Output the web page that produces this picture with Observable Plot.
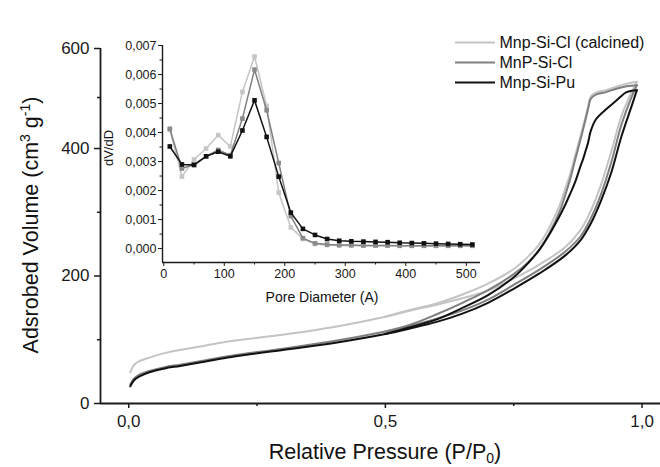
<!DOCTYPE html>
<html><head><meta charset="utf-8">
<script src="https://cdn.jsdelivr.net/npm/d3@7"></script>
<script src="https://cdn.jsdelivr.net/npm/@observablehq/plot@0.6"></script>
<style>
body{margin:0;background:#fff;}
#chart{position:relative;width:660px;height:467px;font-family:"Liberation Sans",Arial,sans-serif;}
#chart svg{position:absolute;left:0;top:0;}
</style></head><body><div id="chart"></div>
<script>
// ---------- series ----------
const seriesNames = ["Mnp-Si-Cl (calcined)", "MnP-Si-Cl", "Mnp-Si-Pu"];
const seriesColors = ["#c4c4c4", "#7f7f7f", "#111111"];
const markerColors = ["#c6c6c6", "#8a8a8a", "#111111"];

// ---------- main isotherm (Relative pressure vs adsorbed volume) ----------
const pAds = [0.003, 0.01, 0.02, 0.04, 0.07, 0.1, 0.15, 0.2, 0.3, 0.4, 0.5, 0.55, 0.6, 0.65, 0.7, 0.75, 0.8, 0.85, 0.88, 0.9, 0.92, 0.94, 0.96, 0.98, 0.99];
const calcinedAds = [49, 60, 66, 72, 79, 84, 91, 98, 108, 120, 136, 146, 155, 165, 177, 196, 218, 245, 272, 302, 343, 395, 464, 512, 532];
const clAds       = [30, 39, 45, 51, 57, 61, 68, 75, 86, 98, 113, 122, 133, 146, 163, 186, 210, 238, 262, 290, 328, 378, 447, 502, 525];
const puAds       = [27, 36, 42, 49, 55, 59, 66, 73, 84, 95, 109, 118, 128, 141, 158, 180, 204, 232, 256, 282, 318, 362, 424, 484, 515];

const pDes = [0.99, 0.97, 0.95, 0.93, 0.91, 0.9, 0.895, 0.89, 0.885, 0.88, 0.87, 0.86, 0.85, 0.84, 0.82, 0.8, 0.78, 0.75, 0.7, 0.65, 0.6, 0.55, 0.5];
const calcinedDes = [532, 528, 522, 515, 510, 502, 483, 462, 443, 424, 390, 360, 336, 312, 277, 250, 232, 211, 188, 171, 157, 147, 136];
const clDes       = [525, 523, 518, 511, 506, 497, 478, 457, 437, 417, 383, 352, 326, 302, 268, 242, 223, 203, 178, 158, 140, 124, 113];
const puDes       = [515, 511, 494, 477, 457, 434, 412, 396, 383, 372, 348, 329, 311, 295, 266, 241, 222, 198, 170, 150, 132, 120, 109];

const mainXDomain = [-0.055, 1.036];
const xMajorTicks = [0, 0.5, 1.0];
const xMinorTicks = [0.25, 0.75];
const yMajorTicks = [0, 200, 400, 600];
const yMinorTicks = [100, 300, 500];
// the source's volume axis is slightly compressed above 400
const yAxisBreaks = [0, 400, 500, 600];
const yAxisSpan   = [0, 400, 480, 556.9];

// ---------- inset (pore size distribution) ----------
const poreDiameter = [10, 30, 50, 70, 90, 110, 130, 150, 170, 190, 210, 230, 250, 270, 290, 310, 330, 350, 370, 390, 410, 430, 450, 470, 490, 510];
const calcinedPSD = [0.00410, 0.00248, 0.00307, 0.00345, 0.00391, 0.00352, 0.00540, 0.00662, 0.00492, 0.00193, 0.00073, 0.00033, 0.00016, 0.00012, 0.00011, 0.00010, 0.00010, 0.00010, 0.00010, 0.00009, 0.00009, 0.00009, 0.00009, 0.00009, 0.00009, 0.00009];
const clPSD       = [0.00413, 0.00276, 0.00290, 0.00318, 0.00340, 0.00322, 0.00448, 0.00617, 0.00477, 0.00295, 0.00112, 0.00036, 0.00018, 0.00014, 0.00012, 0.00012, 0.00011, 0.00011, 0.00011, 0.00010, 0.00010, 0.00010, 0.00010, 0.00010, 0.00010, 0.00010];
const puPSD       = [0.00352, 0.00290, 0.00288, 0.00318, 0.00334, 0.00318, 0.00407, 0.00511, 0.00385, 0.00248, 0.00124, 0.00068, 0.00047, 0.00033, 0.00027, 0.00025, 0.00024, 0.00023, 0.00022, 0.00020, 0.00019, 0.00018, 0.00017, 0.00016, 0.00015, 0.00014];
const insetXDomain = [-2.1, 523.5];
const insetYDomain = [-0.00048, 0.007];
const insetXMajor = [0, 100, 200, 300, 400, 500];
const insetXMinor = [50, 150, 250, 350, 450];
const insetYMajor = [0, 0.001, 0.002, 0.003, 0.004, 0.005, 0.006, 0.007];
const insetYMinor = [0.0005, 0.0015, 0.0025, 0.0035, 0.0045, 0.0055, 0.0065];

// ---------- build ----------
const FONT = '"Liberation Sans", Arial, Helvetica, sans-serif';
const AXIS = "#1a1a1a";
const warp = d3.scaleLinear().domain(yAxisBreaks).range(yAxisSpan);
const toRows = (xs, ys) => xs.map((x, i) => ({x, y: ys[i]}));
const adsSets = [calcinedAds, clAds, puAds];
const desSets = [calcinedDes, clDes, puDes];
const psdSets = [calcinedPSD, clPSD, puPSD];
const svgStyle = {fontFamily: FONT, background: "transparent", overflow: "visible", color: AXIS};

const isoMarks = [];
seriesNames.forEach((name, i) => {
  isoMarks.push(Plot.line(toRows(pAds, adsSets[i]), {x: "x", y: d => warp(d.y), stroke: seriesColors[i], strokeWidth: 2, curve: "catmull-rom"}));
  isoMarks.push(Plot.line(toRows(pDes, desSets[i]), {x: "x", y: d => warp(d.y), stroke: seriesColors[i], strokeWidth: 2, curve: "catmull-rom"}));
});

const fmtMain = d => d.toFixed(1).replace(".", ",");
const main = Plot.plot({
  width: 660, height: 467,
  marginLeft: 100, marginRight: 0, marginTop: 48, marginBottom: 64,
  style: svgStyle,
  x: {domain: mainXDomain},
  y: {domain: [warp(yMajorTicks[0]), warp(yMajorTicks[yMajorTicks.length - 1])]},
  marks: [
    ...isoMarks,
    Plot.ruleY([warp(yMajorTicks[0])], {stroke: AXIS, strokeWidth: 1.8}),
    Plot.ruleX([mainXDomain[0]], {stroke: AXIS, strokeWidth: 1.8}),
    Plot.axisX({ticks: xMajorTicks, tickFormat: fmtMain, tickSize: 5, tickPadding: 6, fontSize: 17, label: null, strokeWidth: 1.5}),
    Plot.axisX({ticks: xMinorTicks, tickFormat: () => "", tickSize: 3, label: null, strokeWidth: 1.5}),
    Plot.axisY({ticks: yMajorTicks.map(v => warp(v)), tickFormat: t => String(Math.round(warp.invert(t))), tickSize: 6, tickPadding: 5, fontSize: 17, label: null, strokeWidth: 1.5}),
    Plot.axisY({ticks: yMinorTicks.map(v => warp(v)), tickFormat: () => "", tickSize: 3, label: null, strokeWidth: 1.5})
  ]
});

const psdMarks = [];
seriesNames.forEach((name, i) => {
  const rows = toRows(poreDiameter, psdSets[i]);
  psdMarks.push(Plot.line(rows, {x: "x", y: "y", stroke: seriesColors[i], strokeWidth: 1.5}));
  psdMarks.push(Plot.dot(rows, {x: "x", y: "y", symbol: "square", r: 2.6, fill: markerColors[i], stroke: "none"}));
});

const fmtInset = d => d.toFixed(3).replace(".", ",");
const inset = Plot.plot({
  width: 660, height: 467,
  marginLeft: 162, marginRight: 180, marginTop: 45, marginBottom: 205,
  style: svgStyle,
  x: {domain: insetXDomain},
  y: {domain: insetYDomain},
  marks: [
    ...psdMarks,
    Plot.ruleY([insetYDomain[0]], {stroke: AXIS, strokeWidth: 1.4}),
    Plot.ruleX([insetXDomain[0]], {stroke: AXIS, strokeWidth: 1.4}),
    Plot.axisX({ticks: insetXMajor, tickFormat: d => String(d), tickSize: 4, tickPadding: 3, fontSize: 12.5, label: null}),
    Plot.axisX({ticks: insetXMinor, tickFormat: () => "", tickSize: 2.5, label: null}),
    Plot.axisY({ticks: insetYMajor, tickFormat: fmtInset, tickSize: 4, tickPadding: 2, fontSize: 12.5, label: null}),
    Plot.axisY({ticks: insetYMinor, tickFormat: () => "", tickSize: 2.5, label: null})
  ]
});

const legend = Plot.plot({
  width: 660, height: 467,
  marginLeft: 455, marginRight: 165, marginTop: 42, marginBottom: 385,
  style: svgStyle,
  x: {domain: [0, 1], axis: null},
  y: {type: "point", domain: seriesNames, padding: 0, axis: null},
  color: {domain: seriesNames, range: seriesColors},
  marks: [
    Plot.ruleY(seriesNames, {y: d => d, stroke: d => d, strokeWidth: 2}),
    Plot.text(seriesNames, {y: d => d, text: d => d, frameAnchor: "right", textAnchor: "start", dx: 4, fontSize: 16, fill: "#111"})
  ]
});

const host = document.getElementById("chart");
host.append(main, inset, legend);

// axis titles (with super/subscripts)
const ms = d3.select(main);
const yt = ms.append("text")
  .attr("transform", "translate(38,225) rotate(-90)")
  .attr("text-anchor", "middle").attr("font-size", 21.5).attr("fill", "#111");
yt.append("tspan").text("Adsrobed Volume (cm");
yt.append("tspan").attr("dy", -8).attr("font-size", 14).text("3");
yt.append("tspan").attr("dy", 8).text(" g");
yt.append("tspan").attr("dy", -8).attr("font-size", 14).text("-1");
yt.append("tspan").attr("dy", 8).text(")");

const xt = ms.append("text")
  .attr("x", 385).attr("y", 459)
  .attr("text-anchor", "middle").attr("font-size", 21.5).attr("fill", "#111");
xt.append("tspan").text("Relative Pressure (P/P");
xt.append("tspan").attr("dy", 4).attr("font-size", 14).text("0");
xt.append("tspan").attr("dy", -4).text(")");

const is = d3.select(inset);
is.append("text").attr("transform", "translate(113,148) rotate(-90)")
  .attr("text-anchor", "middle").attr("font-size", 13).attr("fill", "#111").text("dV/dD");
is.append("text").attr("x", 322).attr("y", 302)
  .attr("text-anchor", "middle").attr("font-size", 14).attr("fill", "#111").text("Pore Diameter (A)");
</script></body></html>
